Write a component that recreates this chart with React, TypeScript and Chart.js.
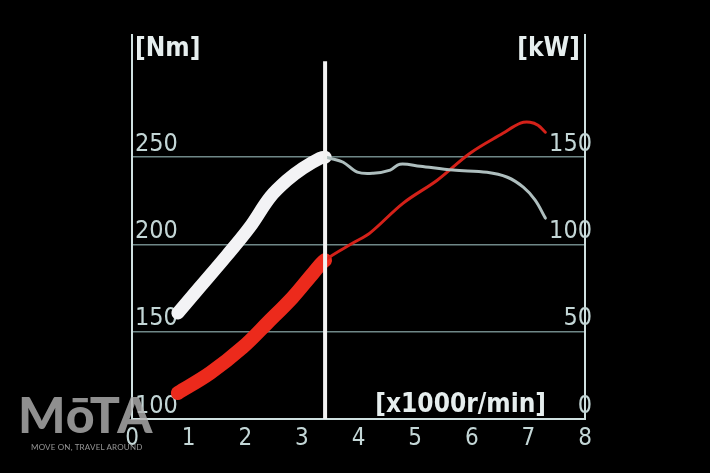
import React, { useEffect, useRef } from "react";
import { Chart, registerables } from "chart.js";

Chart.register(...registerables);

// ---- data ----
const rpmTicks = [0, 1, 2, 3, 4, 5, 6, 7, 8];
const torqueTicks = [100, 150, 200, 250];
const powerTicks = [0, 50, 100, 150];

const torqueRpm = [0.81, 1.2, 1.68, 2.08, 2.44, 2.74, 3.02, 3.32, 3.41, 3.5, 3.73, 3.98, 4.26, 4.56, 4.73, 5.09, 5.67, 6.27, 6.63, 6.91, 7.12, 7.3];
const torqueNm = [160.7, 175.6, 193.9, 209.9, 227.1, 236.8, 243.7, 249.4, 250, 249.4, 247.1, 241.4, 240.8, 242.6, 246.0, 244.8, 242.6, 241.4, 238.5, 232.8, 225.4, 215.1];

const powerRpm = [0.81, 1.38, 1.96, 2.39, 2.84, 3.2, 3.41, 3.9, 4.2, 4.79, 5.39, 5.97, 6.55, 6.86, 7.03, 7.17, 7.3];
const powerKw = [14.9, 26.3, 41.2, 55.0, 69.8, 83.6, 91.0, 100.8, 106.5, 123.7, 136.8, 152.3, 163.7, 169.5, 170.0, 168.3, 164.3];

const markerRpm = 3.41;
const markerNm = [100, 305];

const leftTitle = "[Nm]";
const rightTitle = "[kW]";
const xTitle = "[x1000r/min]";

const FONT = "'Liberation Sans Narrow', 'DejaVu Sans Condensed', 'Roboto Condensed', sans-serif";
const LABEL = "#c3d6d6";
const AXIS = "#cfe0e0";
const GRID = "#6f8787";

const titlesPlugin = {
  id: "titles",
  afterDraw(chart: any) {
    const { ctx, chartArea } = chart;
    ctx.save();
    ctx.fillStyle = "#e6eeee";
    ctx.font = `bold 26px ${FONT}`;
    ctx.textBaseline = "alphabetic";
    ctx.textAlign = "left";
    ctx.fillText(leftTitle, chartArea.left + 3, 56);
    ctx.textAlign = "right";
    ctx.fillText(rightTitle, chartArea.right - 5, 56);
    ctx.fillText(xTitle, chartArea.right - 39, 412);
    ctx.restore();
  },
};

export default function App() {
  const ref = useRef<HTMLCanvasElement | null>(null);

  useEffect(() => {
    if (!ref.current) return;
    const thickUntil = (rpm: number[]) => (c: any) => rpm[c.p1DataIndex] <= markerRpm + 0.001;
    const torqueThick = thickUntil(torqueRpm);
    const powerThick = thickUntil(powerRpm);

    const chart = new Chart(ref.current, {
      type: "line",
      data: {
        datasets: [
          {
            label: "marker",
            data: markerNm.map((v) => ({ x: markerRpm, y: v })),
            yAxisID: "y",
            borderColor: "#f2f2f2",
            borderWidth: 4,
            pointRadius: 0,
            tension: 0,
          },
          {
            label: "torque",
            data: torqueRpm.map((x, i) => ({ x, y: torqueNm[i] })),
            yAxisID: "y",
            borderColor: "#f3f3f5",
            borderWidth: 3,
            borderCapStyle: "round",
            borderJoinStyle: "round",
            pointRadius: 0,
            tension: 0.35,
            segment: {
              borderWidth: (c: any) => (torqueThick(c) ? 13 : 3),
              borderColor: (c: any) => (torqueThick(c) ? "#f3f3f5" : "#aebebe"),
            },
          },
          {
            label: "power",
            data: powerRpm.map((x, i) => ({ x, y: powerKw[i] })),
            yAxisID: "yR",
            borderColor: "#d92118",
            borderWidth: 3,
            borderCapStyle: "round",
            borderJoinStyle: "round",
            pointRadius: 0,
            tension: 0.35,
            segment: {
              borderWidth: (c: any) => (powerThick(c) ? 14 : 3),
              borderColor: (c: any) => (powerThick(c) ? "#ec2a1c" : "#d42119"),
            },
          },
        ],
      },
      options: {
        animation: false,
        responsive: false,
        maintainAspectRatio: false,
        layout: { padding: { left: 132, right: 125, top: 35, bottom: 0 } },
        plugins: { legend: { display: false }, tooltip: { enabled: false } },
        scales: {
          x: {
            type: "linear",
            min: 0,
            max: 8,
            afterBuildTicks: (s: any) => {
              s.ticks = rpmTicks.map((v) => ({ value: v }));
            },
            afterFit: (s: any) => {
              s.height = 54;
            },
            grid: { display: false },
            border: { display: true, color: AXIS, width: 2 },
            ticks: {
              color: LABEL,
              font: { family: FONT, size: 24 },
              padding: -3,
              maxRotation: 0,
              autoSkip: false,
              callback: (v: any) => String(v),
            },
          },
          y: {
            type: "linear",
            position: "left",
            min: 100,
            max: 320,
            afterBuildTicks: (s: any) => {
              s.ticks = torqueTicks.map((v) => ({ value: v }));
            },
            afterFit: (s: any) => {
              s.width = 0;
            },
            grid: {
              drawTicks: false,
              lineWidth: 1.5,
              color: (c: any) => (c.tick && c.tick.value > 100 ? GRID : "rgba(0,0,0,0)"),
            },
            border: { display: true, color: AXIS, width: 2 },
            ticks: {
              mirror: true,
              padding: 3,
              labelOffset: -13,
              color: LABEL,
              font: { family: FONT, size: 25 },
              callback: (v: any) => String(v),
            },
          },
          yR: {
            type: "linear",
            position: "right",
            min: 0,
            max: 220,
            afterBuildTicks: (s: any) => {
              s.ticks = powerTicks.map((v) => ({ value: v }));
            },
            afterFit: (s: any) => {
              s.width = 0;
            },
            grid: { display: false, drawTicks: false },
            border: { display: true, color: AXIS, width: 2 },
            ticks: {
              mirror: true,
              padding: 7,
              labelOffset: -13,
              color: LABEL,
              font: { family: FONT, size: 25 },
              callback: (v: any) => String(v),
            },
          },
        },
      },
      plugins: [titlesPlugin],
    } as any);
    return () => chart.destroy();
  }, []);

  return (
    <div style={{ position: "fixed", left: 0, top: 0, width: 710, height: 473, background: "#000", overflow: "hidden" }}>
      <canvas ref={ref} width={710} height={473} style={{ position: "absolute", left: 0, top: 0, width: 710, height: 473 }} />
      <div
        style={{
          position: "absolute",
          left: 18,
          top: 386,
          fontFamily: "Lato, Inter, sans-serif",
          fontWeight: 900,
          fontSize: 50,
          letterSpacing: 1,
          color: "rgba(175,175,175,0.82)",
          lineHeight: "56px",
          pointerEvents: "none",
        }}
      >
        MōTA
      </div>
      <div
        style={{
          position: "absolute",
          left: 31,
          top: 442,
          fontFamily: "Lato, Inter, sans-serif",
          fontSize: 8,
          color: "rgba(175,175,175,0.85)",
          letterSpacing: 0.2,
          pointerEvents: "none",
        }}
      >
        MOVE ON, TRAVEL AROUND
      </div>
    </div>
  );
}
